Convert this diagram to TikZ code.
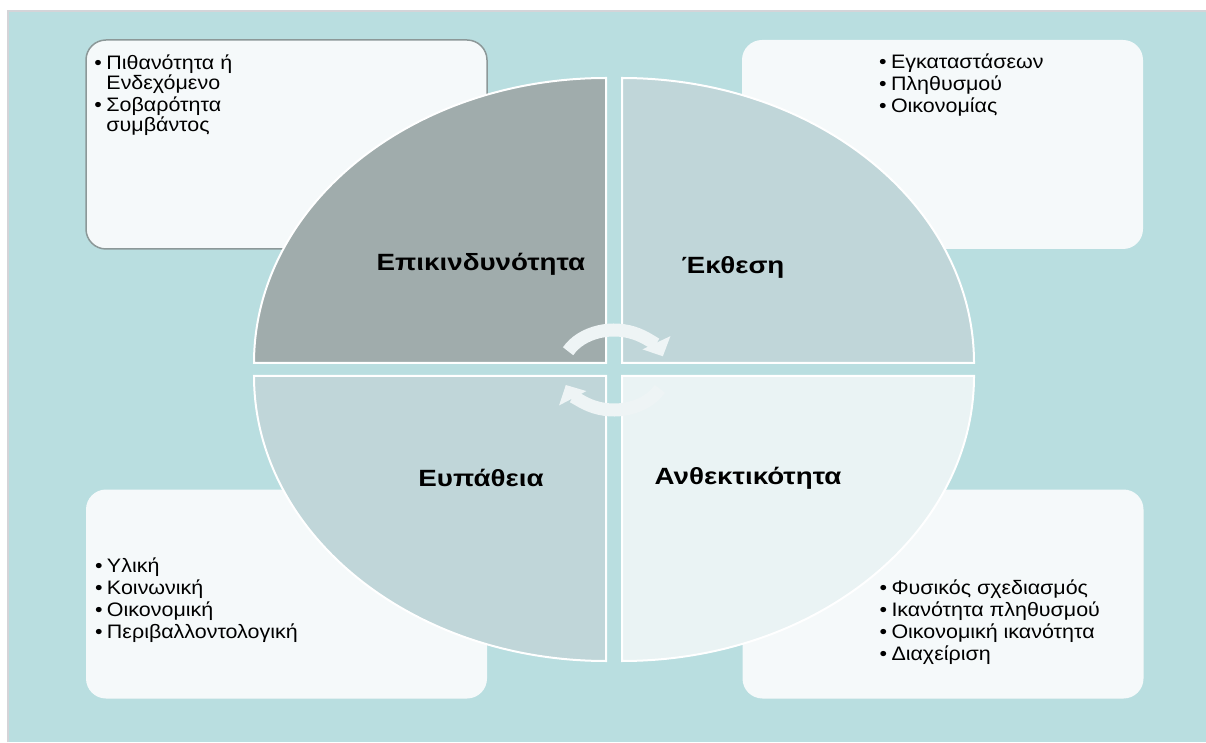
\documentclass[tikz,border=0pt]{standalone}
\usepackage{fontspec}
\setmainfont{Liberation Sans}[FakeStretch=1.1]
\newfontfamily\headfont{Liberation Sans}[FakeStretch=1.18]
\usetikzlibrary{arrows.meta, positioning}

\definecolor{bgteal}{RGB}{185,222,224}
\definecolor{edgegrey}{RGB}{212,212,216}
\definecolor{riskfill}{RGB}{160,172,172}
\definecolor{midfill}{RGB}{192,214,217}
\definecolor{lightfill}{RGB}{234,243,244}
\definecolor{boxfill}{RGB}{245,249,250}
\definecolor{boxedge}{RGB}{140,152,152}
\definecolor{arrowwhite}{RGB}{238,244,245}

\newcommand{\bul}{\makebox[12pt][l]{•}}
\newcommand{\cont}{\hspace*{12pt}}

\begin{document}
\begin{tikzpicture}[
		x=1pt, y=1pt,
		font=\fontsize{19.5}{20}\selectfont,
		infobox/.style={fill=boxfill, rounded corners=20pt, minimum width=401pt, minimum height=209pt},
		itemlist/.style={anchor=north west, align=left, inner sep=0pt},
		quarter/.style={draw=white, line width=2pt},
		heading/.style={font=\headfont\fontsize{23.5}{26}\selectfont\bfseries, inner sep=0pt},
		cyclearrow/.style={draw=arrowwhite, line width=13pt, -{Triangle[width=30pt, length=15pt]}}
		]
		\useasboundingbox (0,0) rectangle (1206,742);
		
		% Background
		\fill[bgteal] (7,0) rectangle (1206,732);
		\draw[edgegrey, line width=2pt] (8,0) -- (8,731) -- (1206,731);
		
		% Corner boxes
		\node[infobox, draw=boxedge, line width=1.5pt] (riskbox) at (286.5,597.5) {};
		\node[infobox] (expobox) at (942.5,597.5) {};
		\node[infobox] (vulnbox) at (286.5,148) {};
		\node[infobox] (resbox) at (943,148) {};
		
		% Quarters
		\filldraw[quarter, fill=riskfill] (606,379) -- (254,379)
		arc[start angle=180, end angle=90, x radius=352, y radius=285] -- cycle;
		\filldraw[quarter, fill=midfill] (622,379) -- (622,664)
		arc[start angle=90, end angle=0, x radius=352, y radius=285] -- cycle;
		\filldraw[quarter, fill=midfill] (606,366) -- (606,81)
		arc[start angle=270, end angle=180, x radius=352, y radius=285] -- cycle;
		\filldraw[quarter, fill=lightfill] (622,366) -- (974,366)
		arc[start angle=0, end angle=-90, x radius=352, y radius=285] -- cycle;
		
		% Lists
		\node[itemlist] (risklist) at ([shift={(9,-15)}]riskbox.north west)
		{\bul Πιθανότητα ή\\ \cont Ενδεχόμενο\\[2pt] \bul Σοβαρότητα\\ \cont συμβάντος};
		\node[itemlist] (expolist) at ([shift={(137,-14)}]expobox.north west)
		{\bul Εγκαταστάσεων\\[2pt] \bul Πληθυσμού\\[2pt] \bul Οικονομίας};
		\node[itemlist] (vulnlist) at ([shift={(9,-68)}]vulnbox.north west)
		{\bul Υλική\\[2pt] \bul Κοινωνική\\[2pt] \bul Οικονομική\\[2pt] \bul Περιβαλλοντολογική};
		\node[itemlist] (reslist) at ([shift={(137,-90)}]resbox.north west)
		{\bul Φυσικός σχεδιασμός\\[2pt] \bul Ικανότητα πληθυσμού\\[2pt] \bul Οικονομική ικανότητα\\[2pt] \bul Διαχείριση};
		
		% Headings
		\node[heading] (risk) at (481,478) {Επικινδυνότητα};
		\node[heading] (expo) at (733,475) {Έκθεση};
		\node[heading] (vuln) at (481,264) {Ευπάθεια};
		\node[heading] (res) at (748,264) {Ανθεκτικότητα};
		
		% Cycle arrows
		\coordinate (hub) at (614,372);
		\draw[cyclearrow] (hub) ++(152:52 and 40)
		arc[start angle=152, end angle=20, x radius=52, y radius=40];
		\draw[cyclearrow] (hub) ++(-28:52 and 40)
		arc[start angle=-28, end angle=-158, x radius=52, y radius=40];
		
	\end{tikzpicture}
\end{document}
